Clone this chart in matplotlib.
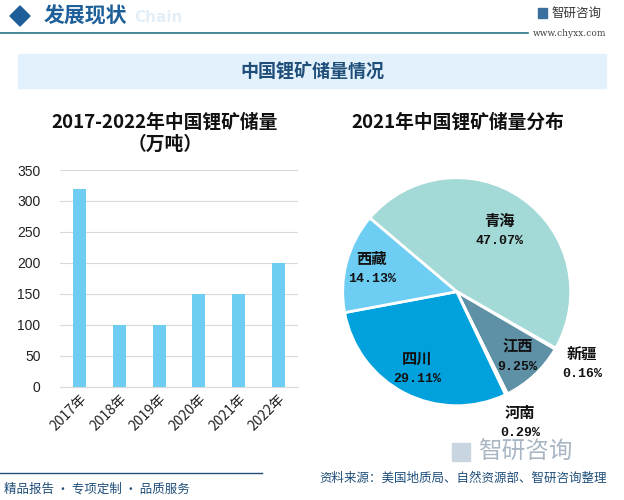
import matplotlib
matplotlib.use("Agg")
import matplotlib.pyplot as plt
import numpy as np
from matplotlib.patches import Rectangle, Polygon

plt.rcParams['font.family'] = ['Noto Sans CJK SC', 'DejaVu Sans']

# bar chart data
years = ['2017年', '2018年', '2019年', '2020年', '2021年', '2022年']
reserves = [320, 100, 100, 150, 150, 200]

# pie chart data (clockwise order starting at upper left)
regions = ['青海', '新疆', '江西', '河南', '四川', '西藏']
shares = [47.07, 0.16, 9.25, 0.29, 29.11, 14.13]
pie_colors = ['#a3d9d6', '#7fb6c4', '#5e90a6', '#cfe8ee', '#00a1dd', '#6dcdf3']
label_dist = [0.65, 1.27, 0.78, 1.28, 0.76, 0.77]

W, H = 624, 500
fig = plt.figure(figsize=(W / 100, H / 100), dpi=100)
fig.patch.set_facecolor('white')

# ---- header ----
bg = fig.add_axes([0, 0, 1, 1])
bg.set_xlim(0, W)
bg.set_ylim(H, 0)
bg.axis('off')

bg.add_patch(Polygon([[10, 16], [20, 6], [30, 16], [20, 26]], closed=True, color='#1f5f99'))
bg.text(134, 18, 'Chain', fontsize=11, color='#e4eef6', va='center', ha='left', fontweight='bold',
        family='DejaVu Sans', zorder=0)
bg.text(44, 16, '发展现状', fontsize=15, color='#1f5f99', va='center', ha='left', fontweight='bold')
bg.plot([0, 528], [33, 33], color='#2a6f86', lw=1.2)
bg.add_patch(Rectangle((538, 8), 9, 10, color='#3b6f9e'))
bg.text(551, 13, '智研咨询', fontsize=9, color='#333333', va='center', ha='left')
bg.text(606, 34, 'www.chyxx.com', fontsize=6.5, color='#444444', va='center', ha='right',
        family='DejaVu Serif')

# banner
bg.add_patch(Rectangle((18, 54), 588, 34, color='#e2f1fb', zorder=0))
bg.text(312, 72, '中国锂矿储量情况', fontsize=13, color='#1f4e79', ha='center', va='center',
        fontweight='bold')

# ---- footer ----
bg.plot([0, 262], [473, 473], color='#1f4e79', lw=1)
bg.text(4, 489, '精品报告 · 专项定制 · 品质服务', fontsize=9, color='#1f4e79', ha='left', va='center')
bg.text(607, 478, '资料来源：美国地质局、自然资源部、智研咨询整理', fontsize=9, color='#1f4e79',
        ha='right', va='center')
bg.add_patch(Rectangle((452, 443), 18, 18, color='#c9d5e0'))
bg.text(478, 452, '智研咨询', fontsize=17, color='#a9b6c3', ha='left', va='center')

# ---- bar chart ----
ax = fig.add_axes([60 / W, 1 - 386.7 / H, 238 / W, (386.7 - 170) / H])
x = np.arange(len(years))
ax.bar(x, reserves, width=0.33, color='#6dcdf3', zorder=3)
ax.set_ylim(0, 350)
ax.set_xlim(-0.5, len(years) - 0.5)
ax.set_yticks(np.arange(0, 351, 50))
ax.yaxis.grid(True, color='#d9d9d9', lw=0.8, zorder=0)
for s in ['top', 'right', 'left']:
    ax.spines[s].set_visible(False)
ax.spines['bottom'].set_color('#d9d9d9')
ax.tick_params(axis='both', length=0, labelsize=10, colors='#222222')
ax.set_xticks(x)
ax.set_xticklabels(years, rotation=45, ha='right', rotation_mode='anchor', fontsize=10)
ax.tick_params(axis='y', pad=14)
for lab in ax.get_yticklabels():
    lab.set_family('Liberation Sans')

bg.text(165, 122, '2017-2022年中国锂矿储量', fontsize=13.5, fontweight='bold', ha='center',
        va='center', color='#111111')
bg.text(165, 144, '（万吨）', fontsize=13.5, fontweight='bold', ha='center', va='center',
        color='#111111')

# ---- pie chart ----
cx, cy, r = 456.7, 291.7, 114
pax = fig.add_axes([(cx - r) / W, 1 - (cy + r) / H, 2 * r / W, 2 * r / H])
wedges, _ = pax.pie(shares, colors=pie_colors, startangle=139.7, counterclock=False,
                    wedgeprops=dict(edgecolor='white', linewidth=2))
pax.set_xlim(-1, 1)
pax.set_ylim(-1, 1)
pax.set_aspect('auto')

for w, name, val, d in zip(wedges, regions, shares, label_dist):
    ang = np.deg2rad((w.theta1 + w.theta2) / 2)
    tx, ty = d * np.cos(ang), d * np.sin(ang)
    pax.text(tx, ty + 0.09, name, fontsize=11, fontweight='bold', ha='center', va='center',
             color='#111111')
    pax.text(tx, ty - 0.09, f'{val:.2f}%', fontsize=9.5, fontweight='bold', ha='center',
             va='center', color='#111111', family='Liberation Mono')

bg.text(458, 122, '2021年中国锂矿储量分布', fontsize=13.5, fontweight='bold', ha='center',
        va='center', color='#111111')

fig.savefig('out.png', dpi=100)
